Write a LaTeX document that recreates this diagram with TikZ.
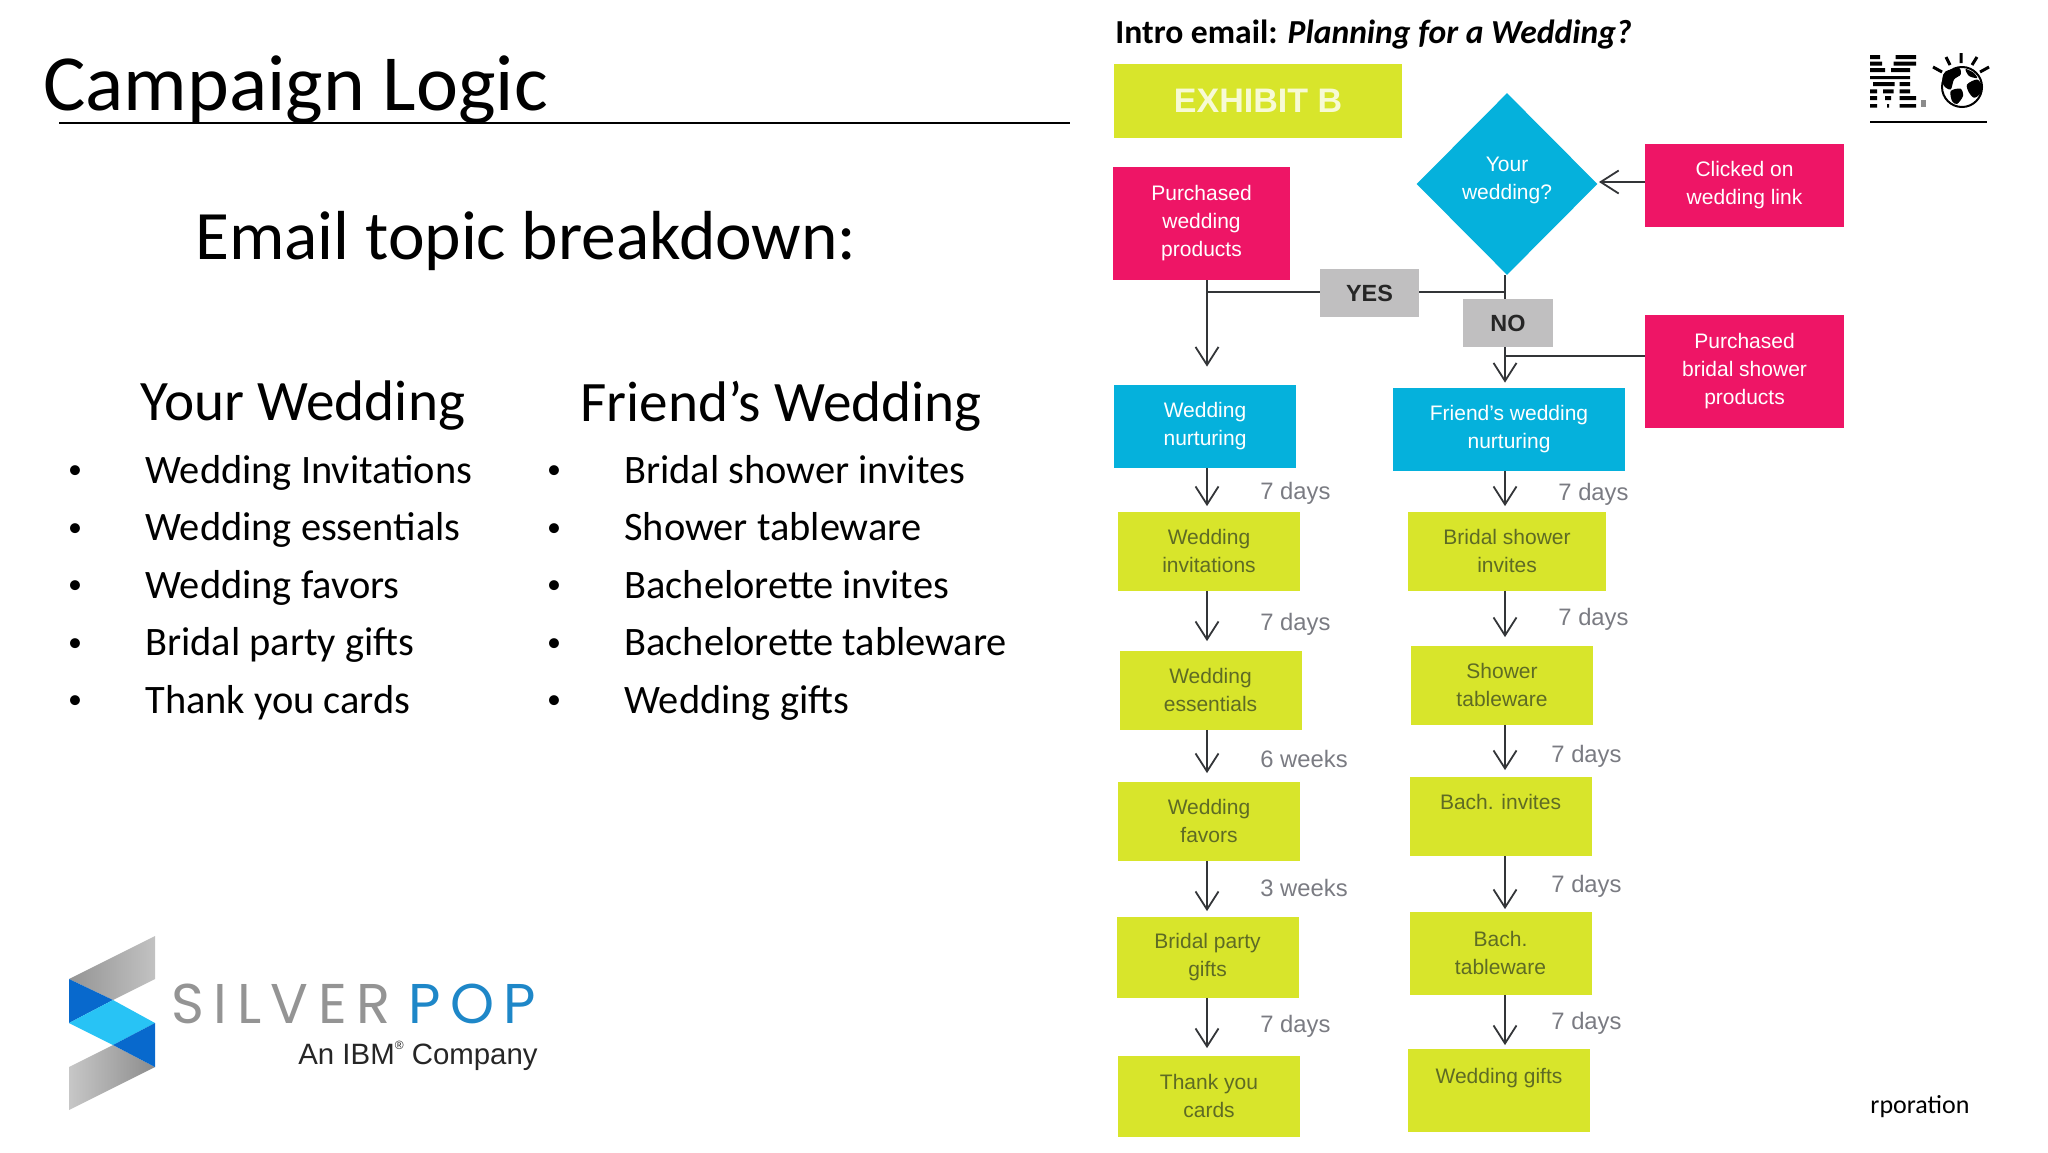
\documentclass[tikz,border=0pt]{standalone}
\usepackage{fontspec}
\setmainfont{Carlito}
\newfontfamily\flowfont{Liberation Sans}
\newfontfamily\popfont[LetterSpace=17]{Poppins}
\usetikzlibrary{arrows.meta,shapes.geometric}
\definecolor{lime}{HTML}{D8E52B}
\definecolor{rose}{HTML}{EE1566}
\definecolor{sky}{HTML}{05B1DC}
\definecolor{tag}{HTML}{C0BFC0}
\definecolor{olivetext}{HTML}{5E6B24}
\definecolor{waittext}{HTML}{7A7B82}
\definecolor{linecol}{HTML}{333538}

\begin{document}
\begin{tikzpicture}[x=0.5pt, y=-0.5pt,
	flowbox/.style={inner sep=0pt, align=center, font=\flowfont\fontsize{10.5}{14}\selectfont},
	topicbox/.style={flowbox, fill=lime, text=olivetext, minimum width=91pt, minimum height=39.5pt},
	rosebox/.style={flowbox, fill=rose, text=white, minimum width=99.5pt, minimum height=56.5pt},
	skybox/.style={flowbox, fill=sky, text=white, minimum height=41.5pt},
	tagbox/.style={inner sep=0pt, fill=tag, text=black!85, font=\flowfont\bfseries\fontsize{11.7}{14}\selectfont, minimum height=24pt},
	wait/.style={inner sep=0pt, anchor=west, text=waittext, font=\flowfont\fontsize{11.9}{14}\selectfont},
	flowline/.style={draw=linecol, line width=0.9pt},
	flow/.style={flowline, -{Straight Barb[length=9pt, width=11.5pt, line width=0.9pt]}, shorten >=2.5pt},
	head/.style={inner sep=0pt, font=\fontsize{28.6}{34}\selectfont},
	item/.style={inner sep=0pt, anchor=base west, font=\fontsize{20.2}{24}\selectfont},
	dot/.style={inner sep=0pt, anchor=base, font=\fontsize{14}{24}\selectfont}]
	\useasboundingbox (0,0) rectangle (2048,1152);

	\node[inner sep=0pt, anchor=west, font=\fontsize{39.8}{48}\selectfont] (title) at (43,90) {Campaign Logic};
	\coordinate (rulea) at (59,123);
	\coordinate (ruleb) at (1070,123);
	\draw[line width=1pt] (rulea)--(ruleb);
	\node[inner sep=0pt, font=\fontsize{34.7}{42}\selectfont] (topics) at (526,241) {Email topic breakdown:};

	\node[head] (yourw) at (303,406) {Your Wedding};
	\node[dot]  (by1) at ( 75,478) {•};
	\node[dot]  (by2) at ( 75,536) {•};
	\node[dot]  (by3) at ( 75,593) {•};
	\node[dot]  (by4) at ( 75,651) {•};
	\node[dot]  (by5) at ( 75,708) {•};
	\node[item] (ty1) at (145,483) {Wedding Invitations};
	\node[item] (ty2) at (145,540) {Wedding essentials};
	\node[item] (ty3) at (145,598) {Wedding favors};
	\node[item] (ty4) at (145,655) {Bridal party gifts};
	\node[item] (ty5) at (145,713) {Thank you cards};

	\node[head] (friendw) at (781,406) {Friend’s Wedding};
	\node[dot]  (bf1) at (554,478) {•};
	\node[dot]  (bf2) at (554,536) {•};
	\node[dot]  (bf3) at (554,593) {•};
	\node[dot]  (bf4) at (554,651) {•};
	\node[dot]  (bf5) at (554,708) {•};
	\node[item] (tf1) at (624,483) {Bridal shower invites};
	\node[item] (tf2) at (624,540) {Shower tableware};
	\node[item] (tf3) at (624,598) {Bachelorette invites};
	\node[item] (tf4) at (624,655) {Bachelorette tableware};
	\node[item] (tf5) at (624,713) {Wedding gifts};

	\node[inner sep=0pt, anchor=west, font=\bfseries\fontsize{16.8}{20}\selectfont] (intro) at (1115,35) {Intro email: \textit{Planning for a Wedding?}};

	\node[flowbox, fill=lime, text=lime!20!white, font=\flowfont\bfseries\fontsize{17}{20}\selectfont, minimum width=144pt, minimum height=37pt] (exb) at (1258,101) {EXHIBIT B};
	\node[rosebox, minimum width=88.5pt] (pwp) at (1201.5,223.5) {Purchased\\wedding\\products};
	\node[flowbox, diamond, aspect=1, fill=sky, text=white, minimum width=90.5pt, minimum height=91pt] (yw) at (1507,184) {Your\\wedding?\\[-8pt]\mbox{}};
	\node[rosebox, minimum height=41.5pt] (cwl) at (1744.5,185.5) {Clicked on\\wedding link};
	\node[tagbox, minimum width=49.5pt] (yes) at (1369.5,293) {\raisebox{-1pt}{YES}};
	\node[tagbox, minimum width=45pt] (no) at (1508,323) {\raisebox{-1pt}{NO}};
	\node[rosebox] (pbs) at (1744.5,371.5) {Purchased\\bridal shower\\products};
	\node[skybox, minimum width=91pt] (wn) at (1205,426.5) {Wedding\\nurturing};
	\node[skybox, minimum width=116pt] (fn) at (1509,429.5) {Friend’s wedding\\nurturing};

	\node[topicbox] (l1) at (1209,551) {Wedding\\invitations};
	\node[topicbox] (l2) at (1210.5,690) {Wedding\\essentials};
	\node[topicbox] (l3) at (1209,821) {Wedding\\favors};
	\node[topicbox, minimum height=40.5pt] (l4) at (1207.5,957) {Bridal party\\gifts};
	\node[topicbox, minimum height=40.5pt] (l5) at (1209,1096) {Thank you\\cards};
	\node[topicbox, minimum width=99pt] (r1) at (1507,551) {Bridal shower\\invites};
	\node[topicbox] (r2) at (1502,685) {Shower\\tableware};
	\node[topicbox] (r3) at (1500.5,816) {Bach. invites\\\mbox{}};
	\node[topicbox, minimum height=41.5pt] (r4) at (1500.5,953) {Bach.\\tableware};
	\node[topicbox, minimum height=41.5pt] (r5) at (1499,1090) {Wedding gifts\\\mbox{}};

	\coordinate (jl) at (1207,292);
	\coordinate (jr) at (1505,292);
	\coordinate (jb) at (1505,356);
	\coordinate (jc) at (1599,182);
	\draw[flow, shorten >=9pt] (pwp.south -| jl)--(wn.north -| jl);
	\draw[flowline] (yes.west |- jl)--(jl);
	\draw[flowline] (yes.east |- jr)--(jr);
	\draw[flowline] (yw.south -| jr)--(no.north -| jr);
	\draw[flow] (no.south -| jr)--(fn.north -| jr);
	\draw[flowline] (pbs.west |- jb)--(jb);
	\draw[flow, shorten >=0pt] (cwl.west |- jc)--(jc);

	\draw[flow] (wn.south -| jl)--(l1.north -| jl);
	\draw[flow, shorten >=4.5pt] (l1.south -| jl)--(l2.north -| jl);
	\draw[flow, shorten >=4pt] (l2.south -| jl)--(l3.north -| jl);
	\draw[flow] (l3.south -| jl)--(l4.north -| jl);
	\draw[flow, shorten >=3.5pt] (l4.south -| jl)--(l5.north -| jl);
	\draw[flow] (fn.south -| jr)--(r1.north -| jr);
	\draw[flow, shorten >=4pt] (r1.south -| jr)--(r2.north -| jr);
	\draw[flow, shorten >=3pt] (r2.south -| jr)--(r3.north -| jr);
	\draw[flow, shorten >=1pt] (r3.south -| jr)--(r4.north -| jr);
	\draw[flow, shorten >=1.5pt] (r4.south -| jr)--(r5.north -| jr);

	\node[wait] (d1) at (1260,493) {7 days};
	\node[wait] (d2) at (1260,624) {7 days};
	\node[wait] (d3) at (1260,759) {6 weeks};
	\node[wait] (d4) at (1260,888) {3 weeks};
	\node[wait] (d5) at (1260,1026) {7 days};
	\node[wait] (e1) at (1558,494) {7 days};
	\node[wait] (e2) at (1558,619) {7 days};
	\node[wait] (e3) at (1551,756) {7 days};
	\node[wait] (e4) at (1551,886) {7 days};
	\node[wait] (e5) at (1551,1023) {7 days};

	\fill (1870,55) rectangle (1880,59) (1895.5,55) rectangle (1916,59)
		(1870,61.7) rectangle (1882,65.6) (1893.5,61.7) rectangle (1916,65.6)
		(1870,68) rectangle (1885,72) (1891,68) rectangle (1910,72)
		(1870,76) rectangle (1910,79)
		(1873,82) rectangle (1894.5,86) (1899.5,82) rectangle (1910,86)
		(1870,89.4) rectangle (1877,93.4) (1883,89.4) rectangle (1893.5,93.4) (1899.5,89.4) rectangle (1910,93.4)
		(1870,96) rectangle (1877,100) (1885,96) rectangle (1891,100) (1899.5,96) rectangle (1916,100)
		(1870,104) rectangle (1877,107.6) (1887,104) rectangle (1889,107.6) (1899.5,104) rectangle (1916,107.6);
	\fill[black!45] (1921,100) rectangle (1926,107);
	\draw[line width=1pt] (1870,121.7)--(1987,121.7);
	\draw[line width=1pt] (1962,87) circle (20);
	\fill plot[smooth cycle] coordinates {(1945.7,71.3) (1959,68) (1960.6,74.6) (1954,79.5) (1950.7,89.4) (1944,86) (1942.4,78)};
	\fill plot[smooth cycle] coordinates {(1967,84.5) (1977,79.5) (1982,86) (1980,94) (1974,97.7) (1969,92.7)};
	\fill plot[smooth cycle] coordinates {(1950.7,91) (1960.6,88.7) (1963,96) (1957,104) (1952,101)};
	\fill plot[smooth cycle] coordinates {(1965.5,69) (1974,73) (1977,78) (1969,76)};
	\draw[line width=1.5pt] (1961,53)--(1961,63) (1946,57)--(1950,65) (1977,57)--(1972,65) (1933,67)--(1942,72) (1989,67)--(1980,72);

	\shade[left color=black!42, right color=black!24] (69,979)--(155,936)--(155,979)--(113,1000)--cycle;
	\shade[left color=black!22, right color=black!45] (69,1067)--(113,1045)--(155,1067)--(69,1110)--cycle;
	\fill[color={rgb,255:red,8;green,105;blue,205}] (69,979)--(113,1000)--(69,1023)--cycle;
	\fill[color={rgb,255:red,40;green,195;blue,245}] (69,1023)--(113,1000)--(155,1023)--(113,1045)--cycle;
	\fill[color={rgb,255:red,8;green,105;blue,205}] (155,1023)--(155,1067)--(113,1045)--cycle;
	\node[inner sep=0pt, anchor=west, text=black!42, font=\popfont\fontsize{28}{30}\selectfont] (silver) at (171,1004) {SILVER};
	\node[inner sep=0pt, anchor=west, text={rgb,255:red,30;green,135;blue,200}, font=\popfont\fontsize{28}{30}\selectfont] (pop) at (408,1004) {POP};
	\node[inner sep=0pt, anchor=east, text=black!85, font=\flowfont\fontsize{14.7}{16}\selectfont] (ibmco) at (538,1056) {An IBM\raisebox{1ex}{\fontsize{6}{6}\selectfont ®} Company};

	\node[inner sep=0pt, anchor=west, font=\fontsize{13}{16}\selectfont] (corp) at (1870,1107) {rporation};
\end{tikzpicture}
\end{document}
